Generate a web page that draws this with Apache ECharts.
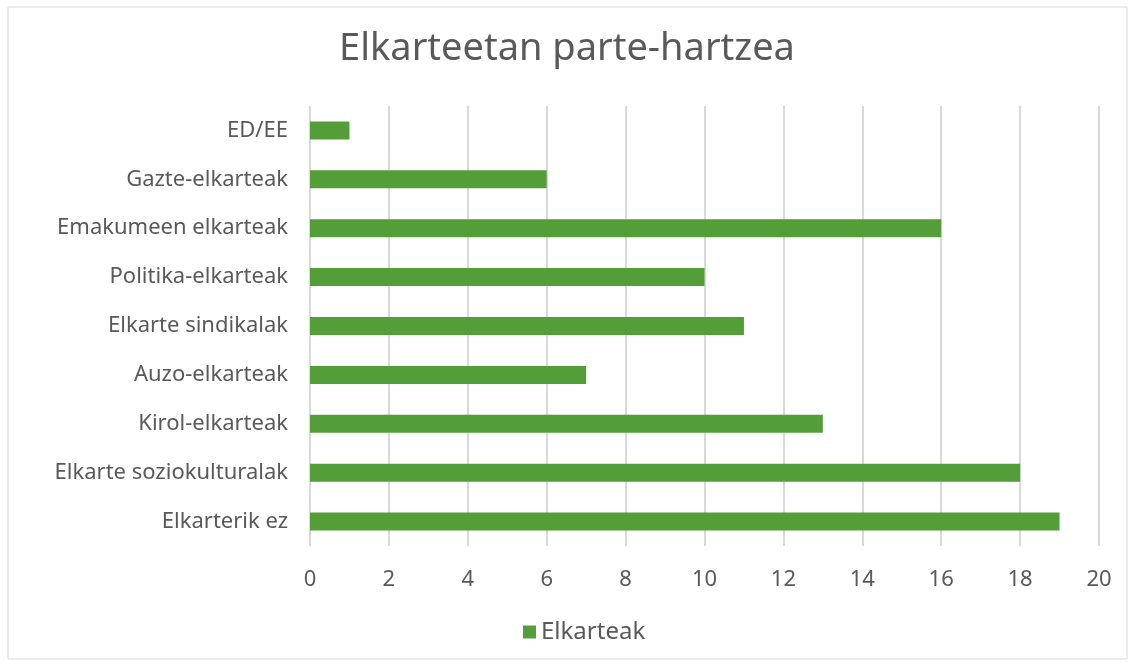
<!DOCTYPE html>
<html>
<head>
<meta charset="utf-8">
<script src="https://cdn.jsdelivr.net/npm/echarts@6/dist/echarts.min.js"></script>
<style>
  html, body { margin: 0; padding: 0; background: #fff; }
  #main { width: 1134px; height: 666px; }
</style>
</head>
<body>
<div id="main"></div>
<script>
// categories from bottom to top
const categories = [
  "Elkarterik ez",
  "Elkarte soziokulturalak",
  "Kirol-elkarteak",
  "Auzo-elkarteak",
  "Elkarte sindikalak",
  "Politika-elkarteak",
  "Emakumeen elkarteak",
  "Gazte-elkarteak",
  "ED/EE"
];
const elkarteak = [19, 18, 13, 7, 11, 10, 16, 6, 1];

const myChart = echarts.init(document.getElementById("main"));
const font = "'Noto Sans', sans-serif";
const option = {
  animation: false,
  textStyle: { fontFamily: font },
  title: {
    text: "Elkarteetan parte-hartzea",
    left: "center",
    top: 25,
    textStyle: { fontFamily: font, fontSize: 38, fontWeight: "normal", color: "#595959" }
  },
  graphic: [
    {
      type: "rect",
      shape: { x: 8, y: 7, width: 1119, height: 652 },
      style: { fill: "none", stroke: "#d9d9d9", lineWidth: 1 },
      silent: true
    }
  ],
  legend: {
    data: ["Elkarteak"],
    bottom: 17,
    left: 518,
    icon: "rect",
    itemWidth: 13,
    itemHeight: 13,
    itemGap: 5,
    textStyle: { fontFamily: font, fontSize: 24, color: "#595959" }
  },
  grid: { left: 310, right: 35, top: 106, bottom: 120, containLabel: false },
  xAxis: {
    type: "value",
    min: 0,
    max: 20,
    interval: 2,
    axisLine: { show: false },
    axisTick: { show: false },
    axisLabel: { fontSize: 22, color: "#595959", margin: 23, fontFamily: font },
    splitLine: { lineStyle: { color: "#d9d9d9", width: 2 } }
  },
  yAxis: {
    type: "category",
    data: categories,
    axisLine: { show: false },
    axisTick: { show: false },
    axisLabel: { fontSize: 22, color: "#595959", margin: 22, fontFamily: font }
  },
  series: [
    {
      name: "Elkarteak",
      type: "bar",
      data: elkarteak,
      barWidth: 18,
      itemStyle: { color: "#549e39" }
    }
  ]
};
myChart.setOption(option);
</script>
</body>
</html>
